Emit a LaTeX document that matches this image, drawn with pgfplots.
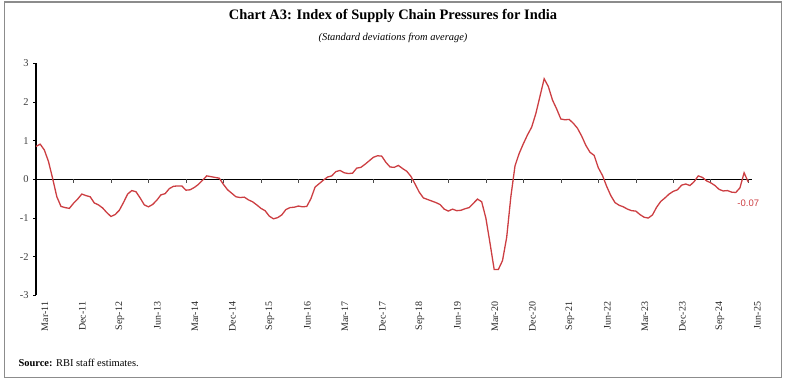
\documentclass[border=0pt]{standalone}
\usepackage{fontspec}
\setmainfont{Liberation Serif}
\newfontfamily\sansf{Liberation Sans}
\usepackage{pgfplots}
\pgfplotsset{compat=1.18}
\definecolor{linered}{RGB}{204,62,66}
\definecolor{framegray}{RGB}{140,140,140}
\definecolor{ticktext}{RGB}{64,64,64}
\begin{document}
\begin{tikzpicture}[x=1bp,y=1bp]
\path (0,0) rectangle (786,383);
\draw[framegray, line width=1.2bp] (4.5,5.5) rectangle (781.5,381);
\node[font=\fontsize{14.5}{16}\selectfont\bfseries] at (393,367) {Chart A3: Index of Supply Chain Pressures for India};
\node[font=\fontsize{10.5}{12}\selectfont\itshape] at (393,345) {(Standard deviations from average)};
\node[anchor=west, font=\fontsize{10.5}{12}\selectfont] at (15,20) {\textbf{Source:} RBI staff estimates.};
\begin{axis}[
  at={(36bp,87.6bp)}, anchor=south west, scale only axis,
  width=716bp, height=232.1bp,
  xmin=0, xmax=171.9, ymin=-3, ymax=3,
  axis y line*=left, axis x line*=bottom,
  x axis line style={draw=none},
  y axis line style={black, line width=1.2bp},
  xtick={0,9,...,171},
  xticklabels={Mar-11,Dec-11,Sep-12,Jun-13,Mar-14,Dec-14,Sep-15,Jun-16,Mar-17,Dec-17,Sep-18,Jun-19,Mar-20,Dec-20,Sep-21,Jun-22,Mar-23,Dec-23,Sep-24,Jun-25},
  xtick style={draw=none},
  ytick={-3,-2,-1,0,1,2,3},
  ytick style={black, line width=0.6bp},
  tick align=outside, major tick length=3bp,
  x tick label style={font=\fontsize{10}{12}\selectfont, text=black!85, xshift=9bp, rotate=90, anchor=east},
  y tick label style={font=\fontsize{10.5}{12}\selectfont, text=ticktext, xshift=-1bp},
  /pgf/number format/assume math mode=true,
  clip=false,
]
\draw[black, line width=1.4bp] (axis cs:0,0) -- (axis cs:171.9,0);
\pgfplotsinvokeforeach{9,18,27,36,45,54,63,72,81,90,99,108,117,126,135,144,153,162,171}{
  \draw[black!70, line width=0.6bp] (axis cs:#1,0) -- ([yshift=-3.5bp]axis cs:#1,0);
}
\addplot[linered, line width=1.3bp, mark=none] coordinates {
(0,0.85)(1,0.91)(2,0.76)(3,0.46)(4,0.02)(5,-0.45)(6,-0.70)(7,-0.73)(8,-0.75)(9,-0.62)
(10,-0.51)(11,-0.38)(12,-0.42)(13,-0.45)(14,-0.61)(15,-0.66)(16,-0.74)(17,-0.86)(18,-0.96)(19,-0.91)
(20,-0.80)(21,-0.60)(22,-0.38)(23,-0.29)(24,-0.32)(25,-0.48)(26,-0.66)(27,-0.71)(28,-0.65)(29,-0.54)
(30,-0.40)(31,-0.37)(32,-0.24)(33,-0.18)(34,-0.17)(35,-0.17)(36,-0.28)(37,-0.27)(38,-0.21)(39,-0.13)
(40,-0.02)(41,0.09)(42,0.07)(43,0.05)(44,0.03)(45,-0.13)(46,-0.27)(47,-0.36)(48,-0.45)(49,-0.47)
(50,-0.46)(51,-0.53)(52,-0.58)(53,-0.66)(54,-0.75)(55,-0.81)(56,-0.95)(57,-1.02)(58,-0.99)(59,-0.92)
(60,-0.78)(61,-0.73)(62,-0.72)(63,-0.69)(64,-0.71)(65,-0.70)(66,-0.50)(67,-0.20)(68,-0.11)(69,-0.02)
(70,0.06)(71,0.09)(72,0.20)(73,0.23)(74,0.17)(75,0.15)(76,0.16)(77,0.29)(78,0.31)(79,0.39)
(80,0.48)(81,0.57)(82,0.61)(83,0.60)(84,0.44)(85,0.32)(86,0.31)(87,0.36)(88,0.28)(89,0.21)
(90,0.08)(91,-0.12)(92,-0.33)(93,-0.48)(94,-0.52)(95,-0.56)(96,-0.60)(97,-0.65)(98,-0.77)(99,-0.82)
(100,-0.77)(101,-0.81)(102,-0.80)(103,-0.76)(104,-0.73)(105,-0.62)(106,-0.51)(107,-0.58)(108,-1.00)(109,-1.65)
(110,-2.33)(111,-2.33)(112,-2.10)(113,-1.50)(114,-0.45)(115,0.35)(116,0.67)(117,0.92)(118,1.15)(119,1.35)
(120,1.70)(121,2.15)(122,2.60)(123,2.40)(124,2.05)(125,1.82)(126,1.56)(127,1.54)(128,1.55)(129,1.45)
(130,1.32)(131,1.12)(132,0.88)(133,0.70)(134,0.62)(135,0.30)(136,0.10)(137,-0.18)(138,-0.42)(139,-0.60)
(140,-0.67)(141,-0.71)(142,-0.77)(143,-0.81)(144,-0.82)(145,-0.91)(146,-0.98)(147,-1.00)(148,-0.92)(149,-0.72)
(150,-0.57)(151,-0.48)(152,-0.38)(153,-0.31)(154,-0.27)(155,-0.15)(156,-0.12)(157,-0.16)(158,-0.06)(159,0.09)
(160,0.05)(161,-0.04)(162,-0.09)(163,-0.16)(164,-0.26)(165,-0.30)(166,-0.29)(167,-0.33)(168,-0.34)(169,-0.22)
(170,0.17)(171,-0.07)
};
\node[text=linered, font=\fontsize{9.5}{11}\selectfont\sansf] at (axis cs:171,-0.61) {-0.07};
\end{axis}
\end{tikzpicture}
\end{document}
